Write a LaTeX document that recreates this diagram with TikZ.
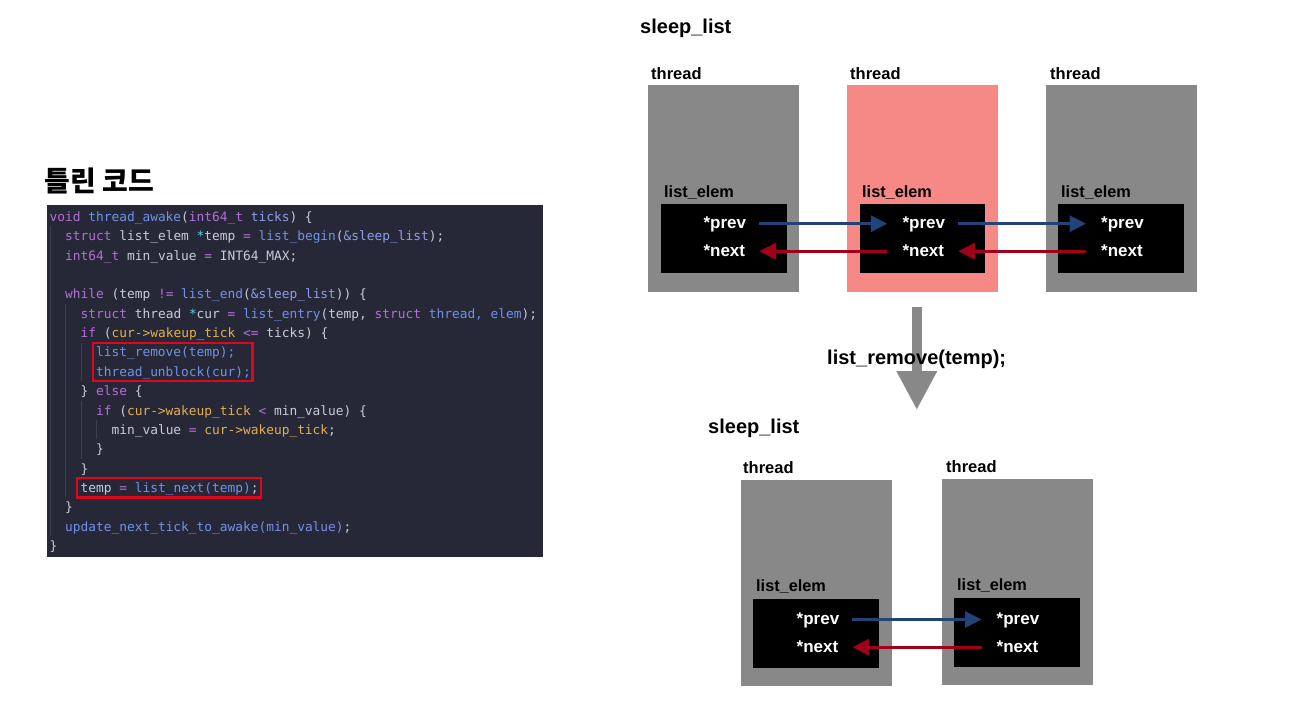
\documentclass[tikz,border=0pt]{standalone}
\usepackage{fontspec}
\setmainfont{Liberation Sans}
\newfontfamily\cjkf{Noto Sans CJK KR}
\newfontfamily\codef{DejaVu Sans Mono}
\usetikzlibrary{arrows.meta}
\definecolor{codebg}{HTML}{262837}
\definecolor{cplain}{HTML}{C8CCDA}
\definecolor{ckwc}{HTML}{B46ED6}
\definecolor{cfnc}{HTML}{7092E8}
\definecolor{cpac}{HTML}{8E9EEA}
\definecolor{ccyc}{HTML}{55D2E0}
\definecolor{cylc}{HTML}{E3B04F}
\definecolor{cguide}{HTML}{3B3F52}
\definecolor{hlred}{HTML}{E0061E}
\definecolor{thgray}{HTML}{888888}
\definecolor{thpink}{HTML}{F68986}
\definecolor{arblue}{HTML}{22427A}
\definecolor{arred}{HTML}{A1001A}
\newcommand\ckw[1]{\textcolor{ckwc}{#1}}
\newcommand\cfn[1]{\textcolor{cfnc}{#1}}
\newcommand\cpa[1]{\textcolor{cpac}{#1}}
\newcommand\ccy[1]{\textcolor{ccyc}{#1}}
\newcommand\cyl[1]{\textcolor{cylc}{#1}}
\begin{document}
\begin{tikzpicture}[x=1pt,y=-1pt,
  codeline/.style={anchor=base west,inner sep=0pt,text=cplain,font=\codef\fontsize{12.85}{15}\selectfont},
  guide/.style={draw=cguide,line width=0.9pt},
  hlbox/.style={draw=hlred,line width=2.6pt},
  title/.style={anchor=base west,inner sep=0pt,font=\bfseries\fontsize{20}{24}\selectfont},
  thlbl/.style={anchor=base west,inner sep=0pt,font=\bfseries\fontsize{16.5}{20}\selectfont},
  elbl/.style={anchor=base west,inner sep=0pt,font=\bfseries\fontsize{16.3}{20}\selectfont},
  thr/.style={anchor=north west,fill=thgray,inner sep=0pt,minimum width=151pt,minimum height=207pt},
  elembox/.style={anchor=north west,fill=black,inner sep=0pt,minimum width=126pt,minimum height=68.5pt},
  ptr/.style={anchor=base west,inner sep=0pt,text=white,text height=13.2pt,text depth=3.2pt,font=\bfseries\fontsize{17}{20}\selectfont},
  barrow/.style={draw=arblue,line width=3.2pt,-{Triangle[length=16.5pt,width=16pt]}},
  rarrow/.style={draw=arred,line width=3.2pt,-{Triangle[length=16.5pt,width=16pt]}},
  bigarrow/.style={draw=thgray,line width=10.5pt,-{Triangle[length=39pt,width=38pt]}}
]
\useasboundingbox (0,0) rectangle (1294,720);
\fill[white] (0,0) rectangle (1294,720);

% ---------- left: code ----------
\node[anchor=base west,inner sep=0pt,font=\cjkf\bfseries\fontsize{28}{33}\selectfont] (ttl) at (44.5,191) {틀린 코드};
\node[anchor=north west,fill=codebg,inner sep=0pt,minimum width=496pt,minimum height=352pt] (code) at (47,205) {};

% indent guides
\draw[guide] (50,226.4) -- (50,536);
\draw[guide] (65.5,303.8) -- (65.5,497.3);
\draw[guide] (81,342.5) -- (81,381.2);
\draw[guide] (81,400.5) -- (81,458.6);
\draw[guide] (96.4,419.9) -- (96.4,439.2);

\node[codeline] (c0) at (49.5,221.5) {\ckw{void} \cfn{thread\_awake}(\ckw{int64\_t} \cpa{ticks}) \{};
\node[codeline] (c1) at (65,240.85) {\ckw{struct} list\_elem \ccy{*}temp \ckw{=} \cfn{list\_begin}(\cpa{\&sleep\_list});};
\node[codeline] (c2) at (65,260.2) {\ckw{int64\_t} min\_value \ckw{=} INT64\_MAX;};
\node[codeline] (c4) at (65,298.9) {\ckw{while} (temp \ckw{!=} \cfn{list\_end}(\cpa{\&sleep\_list})) \{};
\node[codeline] (c5) at (80.5,318.25) {\ckw{struct} thread \ccy{*}cur \ckw{=} \cfn{list\_entry}(temp, \ckw{struct} \cfn{thread, elem});};
\node[codeline] (c6) at (80.5,337.6) {\ckw{if} (\cyl{cur->wakeup\_tick} \ckw{<=} ticks) \{};
\node[codeline] (c7) at (95.9,356.95) {\cfn{list\_remove(temp);}};
\node[codeline] (c8) at (95.9,376.3) {\cfn{thread\_unblock(cur);}};
\node[codeline] (c9) at (80.5,395.65) {\} \ckw{else} \{};
\node[codeline] (c10) at (95.9,415) {\ckw{if} (\cyl{cur->wakeup\_tick} \ckw{<} min\_value) \{};
\node[codeline] (c11) at (111.4,434.35) {min\_value \ckw{=} \cyl{cur->wakeup\_tick};};
\node[codeline] (c12) at (95.9,453.7) {\}};
\node[codeline] (c13) at (80.5,473.05) {\}};
\node[codeline] (c14) at (80.5,492.4) {temp \ckw{=} \cfn{list\_next(temp)};};
\node[codeline] (c15) at (65,511.75) {\}};
\node[codeline] (c16) at (65,531.1) {\cfn{update\_next\_tick\_to\_awake(min\_value)};};
\node[codeline] (c17) at (49.5,550.45) {\}};

\draw[hlbox] (93,343) rectangle (252.5,381);
\draw[hlbox] (77,478) rectangle (261,497.7);

% ---------- right top ----------
\node[title] (sl1) at (640,33.5) {sleep\_list};
\node[thr] (t1) at (648,85) {};
\node[thr,fill=thpink] (t2) at (847,85) {};
\node[thr] (t3) at (1046,85) {};
\node[thlbl] (tl1) at (651,79.5) {thread};
\node[thlbl] (tl2) at (850,79.5) {thread};
\node[thlbl] (tl3) at (1050,79.5) {thread};
\node[elembox] (e1) at (661,204) {};
\node[elembox,minimum width=125pt] (e2) at (860,204) {};
\node[elembox] (e3) at (1058,204) {};
\node[elbl] (el1) at (664,197) {list\_elem};
\node[elbl] (el2) at (862,197) {list\_elem};
\node[elbl] (el3) at (1061,197) {list\_elem};
\node[ptr] (p1) at (703.3,228.7) {*prev};
\node[ptr] (n1) at (703.3,256.2) {*next};
\node[ptr] (p2) at (902.3,228.7) {*prev};
\node[ptr] (n2) at (902.3,256.2) {*next};
\node[ptr] (p3) at (1101,228.7) {*prev};
\node[ptr] (n3) at (1101,256.2) {*next};
\draw[barrow] ([xshift=13pt]p1.east) -- ([xshift=-15pt]p2.west);
\draw[barrow] ([xshift=13pt]p2.east) -- ([xshift=-15pt]p3.west);
\draw[rarrow] ([xshift=-15pt]n2.west) -- ([xshift=14pt]n1.east);
\draw[rarrow] ([xshift=-15pt]n3.west) -- ([xshift=14pt]n2.east);

% ---------- middle arrow ----------
\coordinate (ba1) at (916.8,306.7);
\coordinate (ba2) at (916.8,410);
\draw[bigarrow] (ba1) -- (ba2);
\node[anchor=base,inner sep=0pt,font=\bfseries\fontsize{20}{24}\selectfont] (op) at (916.7,364.5) {list\_remove(temp);};

% ---------- right bottom ----------
\node[title] (sl2) at (708,433.5) {sleep\_list};
\node[thr,minimum height=206pt] (tA) at (741,480) {};
\node[thr,minimum height=206pt] (tB) at (942,479) {};
\node[thlbl] (tlA) at (743,473) {thread};
\node[thlbl] (tlB) at (946,472) {thread};
\node[elembox,minimum height=69pt] (eA) at (753,599) {};
\node[elembox] (eB) at (954,598) {};
\node[elbl] (elA) at (756,591.5) {list\_elem};
\node[elbl] (elB) at (957,590) {list\_elem};
\node[ptr] (pA) at (796.5,624.5) {*prev};
\node[ptr] (nA) at (796.5,652.2) {*next};
\node[ptr] (pB) at (996.5,624.5) {*prev};
\node[ptr] (nB) at (996.5,652.2) {*next};
\draw[barrow] ([xshift=13pt]pA.east) -- ([xshift=-15pt]pB.west);
\draw[rarrow] ([xshift=-15pt]nB.west) -- ([xshift=14pt]nA.east);
\end{tikzpicture}
\end{document}
